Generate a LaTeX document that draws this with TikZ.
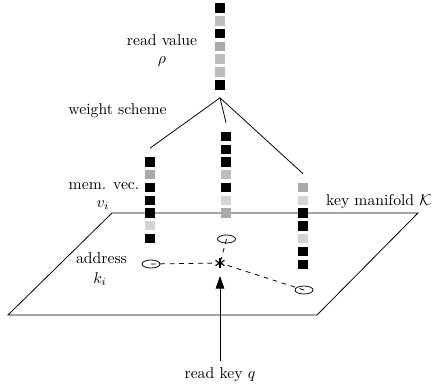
\documentclass[tikz,border=0pt]{standalone}
\usepackage{tikz}
\usetikzlibrary{arrows.meta,shapes.geometric}
\definecolor{slotdark}{HTML}{000000}
\definecolor{slotmid}{HTML}{AAAAAA}
\definecolor{slotlight}{HTML}{BDBDBD}
\definecolor{slotpale}{HTML}{D4D4D4}
\tikzset{
  slot/.style={minimum size=6pt,inner sep=0pt,outer sep=0pt},
  lbl/.style={inner sep=0pt,anchor=base},
  keyell/.style={draw,ellipse,inner sep=0pt,minimum width=11.5pt,minimum height=5.1pt}
}

\begin{document}
\begin{tikzpicture}[x=0.6375pt,y=-0.6375pt,line width=0.5pt]
\useasboundingbox (0,0) rectangle (433,383);
\draw (8,315) -- (317,315) -- (418,213) -- (112,213) -- cycle;
\foreach \c [count=\i] in {slotdark,slotlight,slotdark,slotmid,slotlight,slotlight,slotdark}
  \node[slot,fill=\c] (r\i) at (220,{8+12.8*(\i-1)}) {};
\foreach \c [count=\i] in {slotdark,slotmid,slotdark,slotdark,slotdark,slotpale,slotdark}
  \node[slot,fill=\c] (a\i) at (150,{162+12.75*(\i-1)}) {};
\foreach \c [count=\i] in {slotdark,slotdark,slotdark,slotlight,slotdark,slotpale,slotmid}
  \node[slot,fill=\c] (b\i) at (226,{136.5+12.75*(\i-1)}) {};
\foreach \c [count=\i] in {slotmid,slotpale,slotdark,slotdark,slotpale,slotdark,slotdark}
  \node[slot,fill=\c] (c\i) at (303,{187.5+12.8*(\i-1)}) {};
\coordinate (ws) at ([yshift=-5.3pt]r7.south);
\foreach \col in {a,b,c}
  \draw (ws) -- ([yshift=5.8pt]\col1.north);
\node[keyell] (k1) at (151,264) {};
\node[keyell] (k2) at (226.5,239) {};
\node[keyell] (k3) at (304,290) {};
\coordinate (q) at (220,263);
\foreach \k in {k1,k2,k3}
  \draw[dashed] (\k.center) -- (q);
\foreach \a in {90,30,150}
  \draw[line width=0.7pt] ([shift={(\a:3.3pt)}]q) -- ([shift={(\a+180:3.3pt)}]q);
\node[lbl] (rv) at (162,45) {read value};
\node[lbl] (rho) at (162,63) {$\rho$};
\node[lbl] (wsl) at (117.5,114) {weight scheme};
\node[lbl] (mv) at (104,189) {mem. vec.};
\node[lbl] (vi) at (103,207) {$v_i$};
\node[lbl] (ad) at (101.5,263) {address};
\node[lbl] (ki) at (100,283) {$k_i$};
\node[lbl,anchor=base east] (km) at (432,205) {key manifold $\mathcal{K}$};
\node[lbl] (rk) at (220,378) {read key $q$};
\draw[-{Triangle[length=8pt,width=5.5pt]},shorten <=3.5pt,shorten >=8.3pt] (rk.north) -- (q);
\end{tikzpicture}
\end{document}
